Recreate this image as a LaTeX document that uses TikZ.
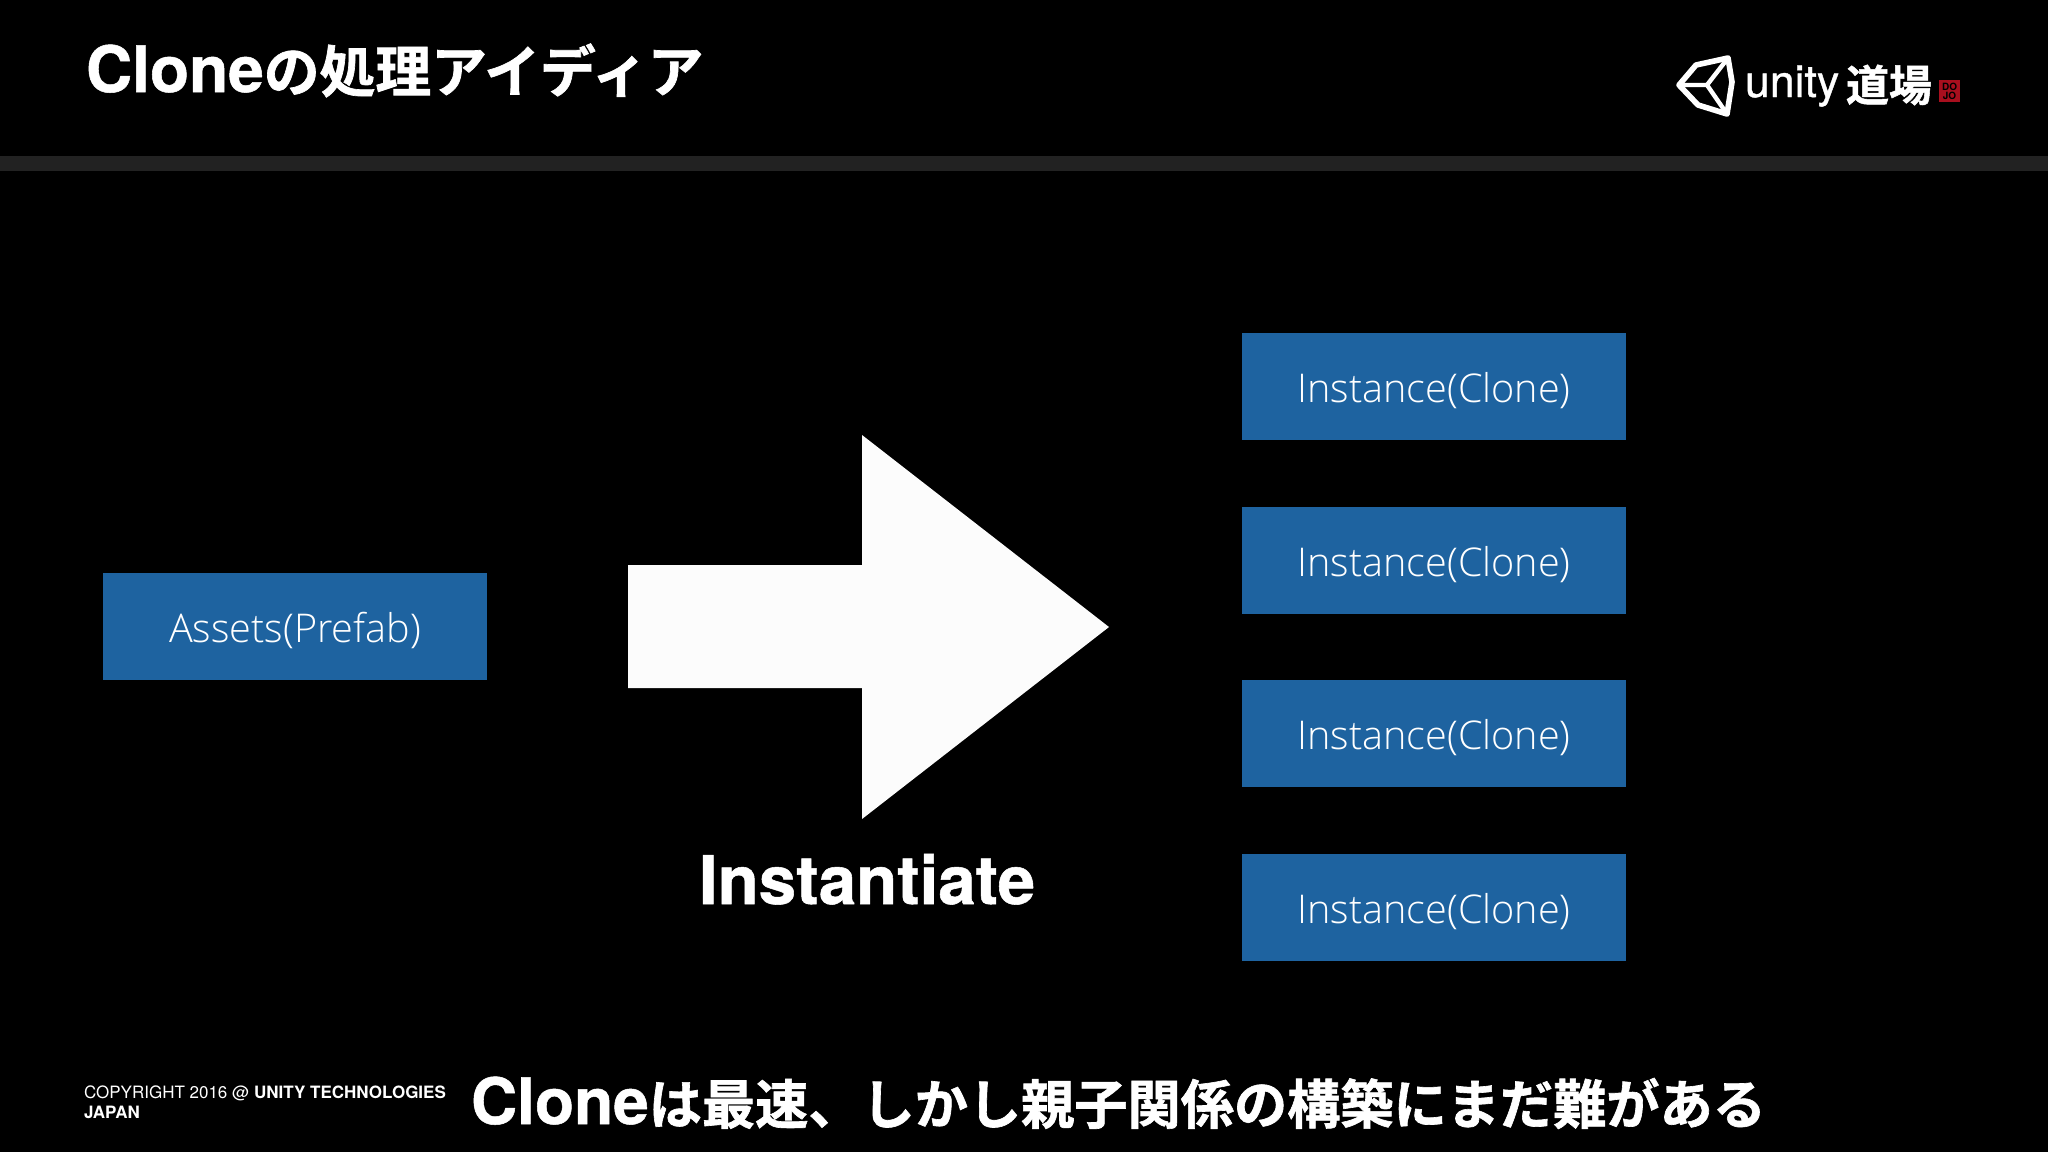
\documentclass[tikz,border=0pt]{standalone}
\usepackage{fontspec}
\setmainfont{TeX Gyre Heros}
\newfontfamily\jpb{Noto Sans CJK JP}[UprightFont=* Bold,BoldFont=* Bold,FakeBold=1.2]
\newfontfamily\ltb{TeX Gyre Heros}[UprightFont=* Bold,FakeBold=0.8]
\newfontfamily\unif{TeX Gyre Heros}[FakeBold=0.8]
\newfontfamily\lightf{Open Sans Light}
\newcommand{\sz}[1]{\fontsize{#1pt}{#1pt}\selectfont}
\definecolor{boxblue}{HTML}{1E63A0}
\definecolor{barc}{HTML}{222222}
\definecolor{sealred}{HTML}{A80F1E}
\tikzset{
  every node/.style={inner sep=0pt,outer sep=0pt,text=white},
  bluebox/.style={fill=boxblue,draw=none,minimum width=192pt,minimum height=53.5pt,anchor=north west,text=white,font=\lightf\sz{19.8},text height=16.2pt,text depth=0pt},
  logoline/.style={draw=white,line width=2.8pt,line join=round},
}
\begin{document}
\begin{tikzpicture}[x=0.5pt,y=-0.5pt]
\useasboundingbox[fill=black] (0,0) rectangle (2048,1152);
\fill[barc] (0,156) rectangle (2048,171);
\node[anchor=base west,font=\ltb\sz{32}] (title) at (86,92) {Clone{\jpb\sz{27.9}の処理アイディア}};
% logo
\draw[logoline] (1679,85) -- (1696,65) -- (1728,58) -- (1732,82) -- (1727,114) -- (1698,105) -- cycle;
\draw[logoline,line width=2.2pt] (1679,85) -- (1707,85) -- (1728,58) (1707,85) -- (1727,114);
\node[anchor=base west,font=\unif\sz{22.3}] (unity) at (1745,97) {unity};
\node[anchor=west,font=\jpb\sz{21.5}] (dojo) at (1846,85) {道場};
\node[fill=sealred,minimum width=10.5pt,minimum height=11pt,anchor=north west,align=center,font=\bfseries\sz{5},text=black] (seal) at (1939,80) {DO\\[-0.5pt]JO};
% boxes
\node[bluebox] (asset) at (103,573) {Assets(Prefab)};
\node[bluebox] (inst1) at (1242,333) {Instance(Clone)};
\node[bluebox] (inst2) at (1242,507) {Instance(Clone)};
\node[bluebox] (inst3) at (1242,680) {Instance(Clone)};
\node[bluebox] (inst4) at (1242,854) {Instance(Clone)};
% big arrow
\fill[white!99!black] (628,565) -- (862,565) -- (862,435) -- (1109,627) -- (862,819) -- (862,688) -- (628,688) -- cycle;
\node[anchor=base,font=\ltb\sz{33.6}] (inst) at (867,904) {Instantiate};
% footer
\node[anchor=base west,font=\sz{8.5}] (copy1) at (84,1098) {COPYRIGHT 2016 @ \textbf{UNITY TECHNOLOGIES}};
\node[anchor=base west,font=\bfseries\sz{8.5}] (copy2) at (84,1118) {JAPAN};
\node[anchor=base west,font=\ltb\sz{32}] (bottom) at (471,1124) {Clone{\jpb\sz{26.6}は最速、しかし親子関係の構築にまだ難がある}};
\end{tikzpicture}
\end{document}
